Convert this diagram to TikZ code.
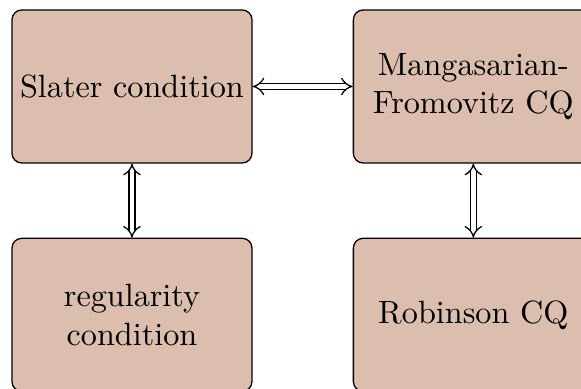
\documentclass[tikz,border=0pt]{standalone}
\usetikzlibrary{positioning,arrows.meta}
\definecolor{cqfill}{RGB}{219,190,174}
\tikzset{
  cqbox/.style={draw=black, fill=cqfill, rounded corners=3pt, align=center,
    minimum width=74.5pt, minimum height=47.5pt, inner sep=2pt},
  equiv/.style={double, double distance=1.5pt, {Implies}-{Implies}}
}
\begin{document}
\begin{tikzpicture}
% page frame (boxes on the right and at the bottom run past it)
\useasboundingbox (-40.98pt,26.85pt) rectangle ++(180.4pt,-120.5pt);

% conditions
\node[cqbox] (slater) at (0,0) {Slater condition};
\node[cqbox, right=31.1pt of slater] (mfcq) {Mangasarian-\\Fromovitz CQ};
\node[cqbox, below=23pt of slater] (reg) {regularity\\condition};
\node[cqbox, below=23pt of mfcq] (rob) {Robinson CQ};

% equivalences
\draw[equiv] (slater) -- (mfcq);
\draw[equiv] (slater) -- (reg);
\draw[equiv] (mfcq) -- (rob);
\end{tikzpicture}
\end{document}
